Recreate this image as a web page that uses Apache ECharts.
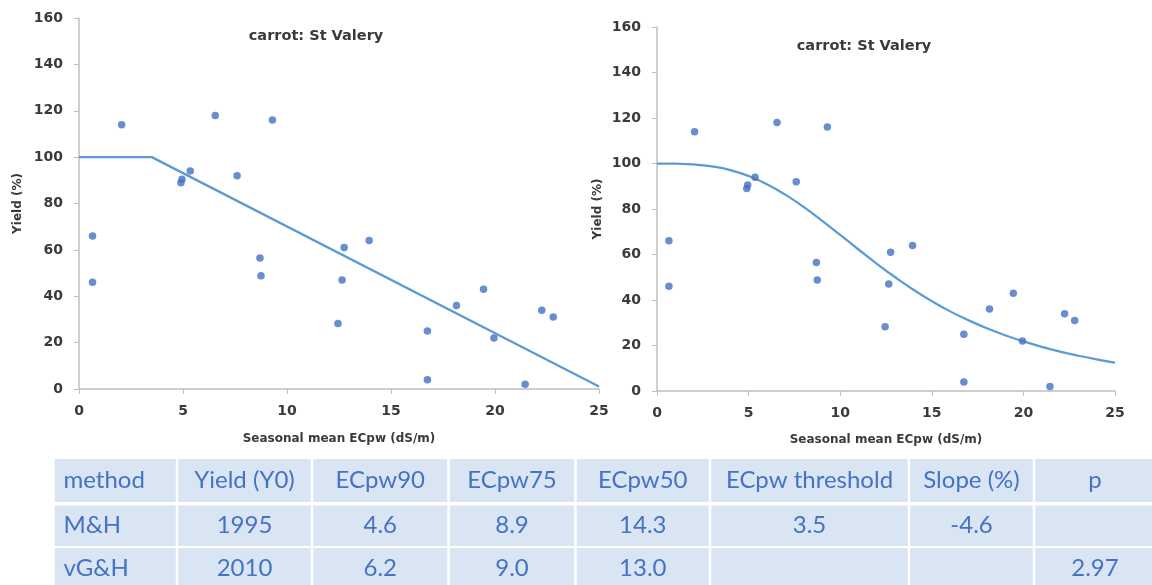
<!DOCTYPE html>
<html>
<head>
<meta charset="utf-8">
<script src="https://cdn.jsdelivr.net/npm/echarts@6/dist/echarts.min.js"></script>
<style>
  html, body { margin: 0; padding: 0; background: #ffffff; }
  #chart { width: 1152px; height: 585px; }
</style>
</head>
<body>
<div id="chart"></div>
<script>
// Observed carrot yields at St Valery
const ecpw = [0.65, 0.65, 2.05, 4.9, 4.95, 5.35, 6.55, 7.6, 9.3, 8.7, 8.75, 12.75, 12.65, 12.45, 13.95, 16.75, 16.75, 18.15, 19.45, 19.95, 21.45, 22.25, 22.8];
const yieldPct = [66, 46, 114, 89, 90.5, 94, 118, 92, 116, 56.5, 48.8, 61, 47, 28.2, 64, 25, 4, 36, 43, 22, 2, 34, 31];

// Maas & Hoffman threshold–slope response
const mhX = [0, 3.5, 25];
const mhY = [100, 100, 1.1];

// van Genuchten & Hoffman sigmoid response
const vghX = [0, 1, 2, 3, 4, 5, 6, 7, 8, 9, 10, 11, 12, 13, 14, 15, 16, 17, 18, 19, 20, 21, 22, 23, 24, 25];
const vghY = [100, 99.9, 99.6, 98.7, 97.1, 94.5, 90.9, 86.3, 80.9, 74.9, 68.6, 62.2, 55.9, 50, 44.5, 39.5, 35.0, 31.1, 27.6, 24.5, 21.8, 19.4, 17.3, 15.5, 13.9, 12.5];

// Fitted parameters table
const tableHeader = ['method', 'Yield (Y0)', 'ECpw90', 'ECpw75', 'ECpw50', 'ECpw threshold', 'Slope (%)', 'p'];
const rowMH = ['M&H', '1995', '4.6', '8.9', '14.3', '3.5', '-4.6', ''];
const rowVGH = ['vG&H', '2010', '6.2', '9.0', '13.0', '', '', '2.97'];

const chartTitle = 'carrot: St Valery';
const xName = 'Seasonal mean ECpw (dS/m)';
const yName = 'Yield (%)';

const pairs = (xs, ys) => xs.map((x, i) => [x, ys[i]]);

const tickFont = { fontFamily: 'DejaVu Sans', fontWeight: 'bold', fontSize: 14, color: '#3a3a3a' };
const nameFont = { fontFamily: 'DejaVu Sans', fontWeight: 'bold', fontSize: 12, color: '#3a3a3a' };
const axisGrey = '#bfbfbf';

function xAxisFor(gridIndex, gap) {
  return {
    type: 'value', gridIndex, min: 0, max: 25, interval: 5,
    name: xName, nameLocation: 'middle', nameGap: gap, nameTextStyle: nameFont,
    axisLine: { show: true, lineStyle: { color: axisGrey, width: 1.5 } },
    axisTick: { show: true, length: 5, lineStyle: { color: axisGrey } },
    axisLabel: Object.assign({ margin: 15 }, tickFont),
    splitLine: { show: false }
  };
}
function yAxisFor(gridIndex, gap) {
  return {
    type: 'value', gridIndex, min: 0, max: 160, interval: 20,
    name: yName, nameLocation: 'middle', nameGap: gap, nameRotate: 90, nameTextStyle: nameFont,
    axisLine: { show: true, lineStyle: { color: axisGrey, width: 1.5 } },
    axisTick: { show: true, length: 5, lineStyle: { color: axisGrey } },
    axisLabel: Object.assign({ margin: 16 }, tickFont),
    splitLine: { show: false }
  };
}

// Table drawn as graphic cells
const colEdges = [53.5, 177, 312, 448.5, 575.5, 710, 909, 1034, 1156];
const rowEdges = [[459, 502], [505.5, 546], [548, 592]];
const cellFill = '#dae5f4';
const cellText = '#4472C4';
const tableRows = [tableHeader, rowMH, rowVGH];
const tableGraphics = [];
tableRows.forEach((row, r) => {
  const [top, bottom] = rowEdges[r];
  row.forEach((txt, c) => {
    const x0 = colEdges[c] + 1.2, x1 = colEdges[c + 1] - 1.2;
    tableGraphics.push({
      type: 'rect', silent: true,
      shape: { x: x0, y: top, width: x1 - x0, height: bottom - top },
      style: { fill: cellFill }
    });
    if (txt !== '') {
      const leftAligned = c === 0;
      tableGraphics.push({
        type: 'text', silent: true,
        x: leftAligned ? colEdges[c] + 10 : (colEdges[c] + colEdges[c + 1]) / 2,
        y: r === 2 ? 568 : (top + bottom) / 2,
        style: {
          text: txt, fill: cellText, font: '24px Lato',
          textAlign: leftAligned ? 'left' : 'center', textVerticalAlign: 'middle'
        }
      });
    }
  });
});

const chart = echarts.init(document.getElementById('chart'), null, { renderer: 'canvas' });
chart.setOption({
  animation: false,
  backgroundColor: '#ffffff',
  title: [
    { text: chartTitle, left: 311, top: 24, textAlign: 'center',
      textStyle: { fontFamily: 'DejaVu Sans', fontWeight: 'bold', fontSize: 14.5, color: '#3a3a3a' } },
    { text: chartTitle, left: 859, top: 34, textAlign: 'center',
      textStyle: { fontFamily: 'DejaVu Sans', fontWeight: 'bold', fontSize: 14.5, color: '#3a3a3a' } }
  ],
  grid: [
    { left: 79, top: 18, width: 520, height: 371 },
    { left: 657, top: 27, width: 458, height: 364 }
  ],
  xAxis: [xAxisFor(0, 44), xAxisFor(1, 43)],
  yAxis: [yAxisFor(0, 55), yAxisFor(1, 53)],
  series: [
    { type: 'line', xAxisIndex: 0, yAxisIndex: 0, data: pairs(mhX, mhY), showSymbol: false,
      lineStyle: { color: '#5B9BD5', width: 2.25 }, z: 2 },
    { type: 'scatter', xAxisIndex: 0, yAxisIndex: 0, data: pairs(ecpw, yieldPct), symbolSize: 7.5,
      itemStyle: { color: '#4472C4' }, z: 3 },
    { type: 'line', xAxisIndex: 1, yAxisIndex: 1, data: pairs(vghX, vghY), showSymbol: false, smooth: true,
      lineStyle: { color: '#5B9BD5', width: 2.25 }, z: 2 },
    { type: 'scatter', xAxisIndex: 1, yAxisIndex: 1, data: pairs(ecpw, yieldPct), symbolSize: 7.5,
      itemStyle: { color: '#4472C4' }, z: 3 }
  ],
  graphic: tableGraphics
});
</script>
</body>
</html>
